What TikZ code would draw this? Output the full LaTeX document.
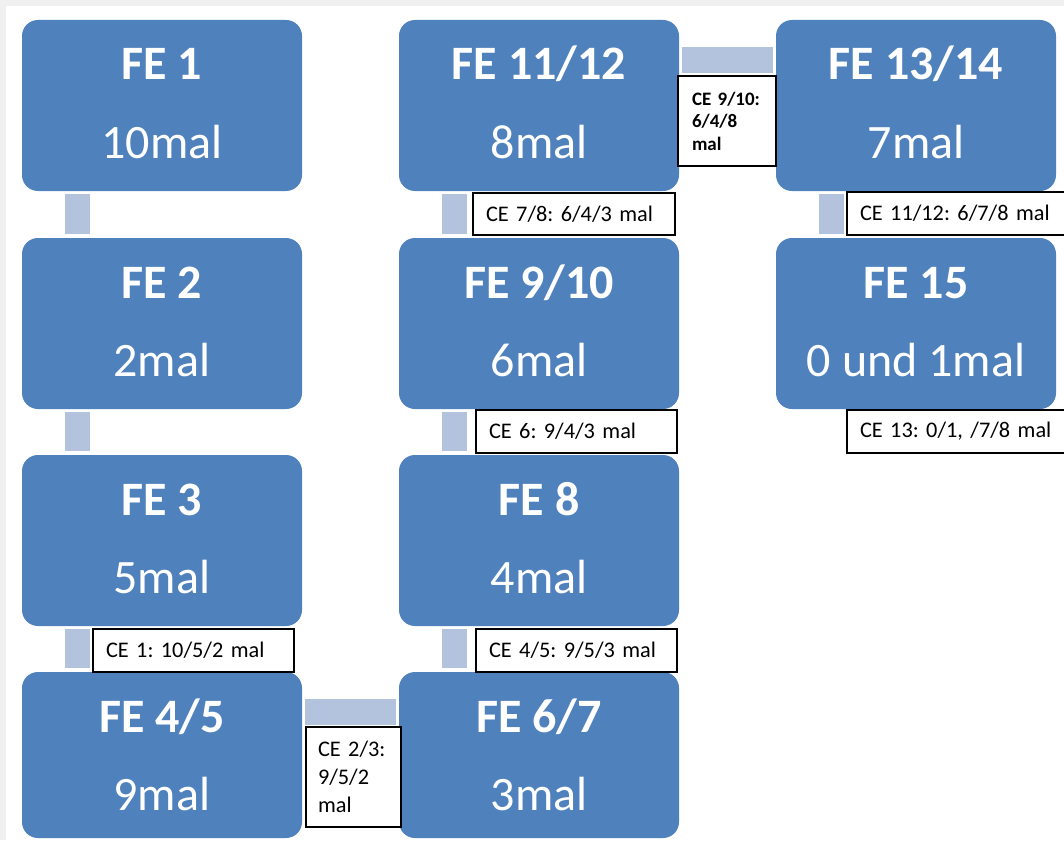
\documentclass[tikz,border=0pt]{standalone}
\usepackage{fontspec}
\setmainfont{Carlito}
\usetikzlibrary{calc}
\definecolor{feblue}{HTML}{4F81BD}
\definecolor{connc}{HTML}{B3C3DD}
\definecolor{pagebg}{HTML}{F0F0F0}
\frenchspacing
\newcommand\febox[6]{% name, x, y, height, title, count
  \node[feshape, minimum height=#4pt] (#1) at (#2,#3) {};
  \node[fetitle] (#1t) at ($(#1.north)+(0,60)$) {#5};
  \node[fecount] (#1c) at ($(#1.north)+(0,138)$) {#6};
}
\begin{document}
\begin{tikzpicture}[x=1pt,y=-1pt,
  feshape/.style={fill=feblue, rounded corners=16pt, minimum width=280pt, anchor=north west, inner sep=0pt, outer sep=0pt},
  fetitle/.style={text=white, font=\fontsize{48}{56}\selectfont\bfseries, anchor=base, inner sep=0pt},
  fecount/.style={text=white, font=\fontsize{48}{56}\selectfont, anchor=base, inner sep=0pt},
  conn/.style={fill=connc, draw=none},
  celabel/.style={draw=black, line width=2.4pt, fill=white, anchor=north west, font=\fontsize{22.3}{28}\selectfont\frenchspacing, align=left, inner xsep=13pt, inner ysep=0pt, outer sep=0pt},
]
\useasboundingbox (0,0) rectangle (1064,840);
\fill[pagebg] (0,0) rectangle (1064,840);
\fill[white] (6,6) rectangle (1064,840);

% boxes
\febox{fe1}{22}{20}{171}{FE 1}{10mal}
\febox{fe2}{22}{238}{171}{FE 2}{2mal}
\febox{fe3}{22}{455}{171}{FE 3}{5mal}
\febox{fe45}{22}{672}{166}{FE 4/5}{9mal}
\febox{fe67}{399}{672}{166}{FE 6/7}{3mal}
\febox{fe8}{399}{455}{171}{FE 8}{4mal}
\febox{fe910}{399}{238}{171}{FE 9/10}{6mal}
\febox{fe1112}{399}{20}{171}{FE 11/12}{8mal}
\febox{fe1314}{776}{20}{171}{FE 13/14}{7mal}
\febox{fe15}{776}{238}{171}{FE 15}{0 und 1mal}

% vertical connectors
\foreach \a/\b in {fe1/fe2, fe2/fe3, fe3/fe45, fe8/fe67, fe910/fe8, fe1112/fe910, fe1314/fe15}{
  \fill[conn] ($(\a.south west)+(43,3)$) rectangle ($(\b.north west)+(68,-4)$);
}
% horizontal connectors
\foreach \a/\b in {fe45/fe67, fe1112/fe1314}{
  \fill[conn] ($(\a.north east)+(3,27)$) rectangle ($(\b.north west)+(-3,53)$);
}

% labels
\node[celabel, text width=175pt, minimum height=43pt] (ce1) at (93,629) {CE 1: 10/5/2 mal};
\node[celabel, text width=175pt, minimum height=43pt] (ce45) at (476,629) {CE 4/5: 9/5/3 mal};
\node[celabel, text width=175pt, minimum height=43pt] (ce6) at (476,410) {CE 6: 9/4/3 mal};
\node[celabel, text width=176pt, minimum height=42pt] (ce78) at (473,193) {CE 7/8: 6/4/3 mal};
\node[celabel, text width=205pt, minimum height=43pt] (ce1112) at (847,192) {CE 11/12: 6/7/8 mal};
\node[celabel, text width=205pt, minimum height=43pt] (ce13) at (847,410) {CE 13: 0/1, /7/8 mal};
\node[celabel, inner xsep=12pt, text width=71pt, minimum height=100pt] (ce23) at (306,727) {CE 2/3:\\9/5/2\\mal};
\node[celabel, inner xsep=14pt, text width=70pt, minimum height=90pt, font=\fontsize{19}{22.5}\selectfont\bfseries\frenchspacing] (ce910) at (678,76) {CE 9/10:\\6/4/8\\mal};
\end{tikzpicture}
\end{document}
